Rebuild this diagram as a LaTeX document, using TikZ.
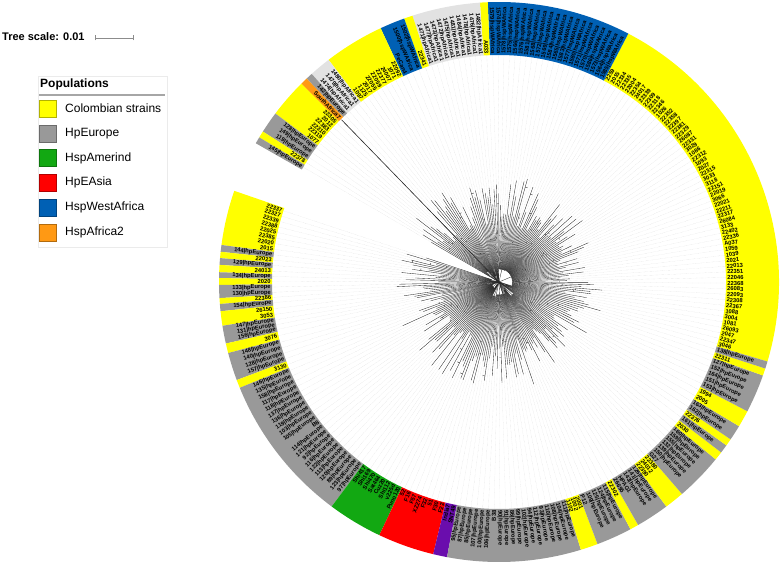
\documentclass[tikz,border=0pt]{standalone}
\usepackage{fontspec}
\setmainfont{Liberation Sans}
\usetikzlibrary{calc}

\definecolor{colyellow}{HTML}{FFFF00}
\definecolor{colgray}{HTML}{999999}
\definecolor{colgreen}{HTML}{12A812}
\definecolor{colred}{HTML}{FF0000}
\definecolor{colblue}{HTML}{0060B4}
\definecolor{colorange}{HTML}{FF9914}
\definecolor{colafrica}{HTML}{E2E2E2}
\definecolor{colpurple}{HTML}{6A0DAD}

\def\rin{227}
\def\rout{280}
\newcount\leafno

% one coloured block of the ring, its leaves, labels and branches
\newcommand{\ringseg}[4]{%
  \fill[#3] (#1:\rin) arc[start angle=#1, end angle=#2, radius=\rin]
    -- (#2:\rout) arc[start angle=#2, end angle=#1, radius=\rout] -- cycle;
  \foreach \lab [count=\n] in {#4} {\xdef\segcount{\n}}
  \pgfmathsetmacro\segstep{(#2-#1)/\segcount}
  \pgfmathsetmacro\segstem{3+16*rnd}
  \pgfmathsetmacro\afirst{#1+0.5*\segstep}
  \pgfmathsetmacro\alast{#2-0.5*\segstep}
  \pgfmathsetmacro\amid{0.5*(#1+#2)}
  \draw[branch] (0,0) -- (\amid:\segstem);
  \draw[branch] (\afirst:\segstem) arc[start angle=\afirst, end angle=\alast, radius=\segstem];
  \foreach \lab [count=\k] in {#4} {
    \global\advance\leafno by 1
    \pgfmathsetmacro\ang{#1+(\k-0.5)*\segstep}
    \pgfmathsetmacro\tip{58+50*rnd}
    \pgfmathsetmacro\knot{\segstem+rnd*(\tip-\segstem-4)}
    \pgfmathtruncatemacro\flip{(\ang>90)*(\ang<270)}
    \pgfmathsetmacro\rlab{\rin+1}
    \draw[branch] (\ang:\segstem) -- (\ang:\tip);
    \ifnum\k>1
      \draw[branch] (\ang:\knot) arc[start angle=\ang, end angle=\ang-\segstep, radius=\knot];
    \fi
    \draw[guide] (\ang:\tip) -- (\ang:\rin);
    \ifnum\flip=1
      \node[leaflab, anchor=east, rotate=\ang+180] (leaf\the\leafno) at (\ang:\rlab) {\lab};
    \else
      \node[leaflab, anchor=west, rotate=\ang] (leaf\the\leafno) at (\ang:\rlab) {\lab};
    \fi
  }
}

\begin{document}
\begin{tikzpicture}[
  x=1pt, y=1pt,
  leaflab/.style={font=\fontsize{5.8}{6.5}\selectfont\bfseries, inner sep=0.2pt},
  branch/.style={line width=0.35pt, black!85},
  guide/.style={black!20, line width=0.2pt, dash pattern=on 0.4pt off 0.8pt},
  swatch/.style={minimum width=17pt, minimum height=17pt, inner sep=0pt, line width=0.5pt},
  legtext/.style={font=\fontsize{12}{14}\selectfont, anchor=west, inner sep=0pt},
]
\useasboundingbox (0,0) rectangle (784,564);
\pgfmathsetseed{11}

%% Tree scale
\node[font=\fontsize{11}{13}\selectfont\bfseries, anchor=west, inner sep=0pt] (scaletxt) at (2,527) {Tree scale: 0.01};
\draw[black!45, line width=0.5pt] (95,526) -- (133,526);
\draw[black!45, line width=0.5pt] (95,523.5) -- (95,528.5);
\draw[black!45, line width=0.5pt] (133,523.5) -- (133,528.5);

%% Legend
\node[draw=black!8, line width=0.6pt, minimum width=129pt, minimum height=171pt,
  anchor=north west, inner sep=0pt] (legbox) at (38,488) {};
\node[font=\fontsize{12}{14}\selectfont\bfseries, anchor=west, inner sep=0pt] (legtitle) at (40,480) {Populations};
\draw[black!35, line width=1.2pt] (39,469) -- (165,469);
\foreach \col/\txt [count=\i] in {colyellow/Colombian strains, colgray/HpEurope,
    colgreen/HspAmerind, colred/HpEAsia, colblue/HspWestAfrica, colorange/HspAfrica2} {
  \pgfmathsetmacro\yy{564-108.5-(\i-1)*24.8}
  \node[swatch, fill=\col, draw=\col!70!black] (sw\i) at (47.5,\yy) {};
  \node[legtext] (leg\i) at (65,\yy) {\txt};
}

%% Ring and tree
\begin{scope}[shift={(499,282)}]
\ringseg{-16.5}{62.5}{colyellow}{3046,22347,2047,26093,1081,3004,1088,22367,22308,22093,26083,22368,22046,22351,22013,2021,1039,1059,A037,22336,22402,3133,26084,22317,22211,22021,3066,22019,22151,3118,3033,22315,2027,1093,22312,1086,3029,22331,26087,22329,22381,22397,22358,22352,1026,22346,22318,22309,22339,24017,22354,22004,22335,22334,2015,2259}
\ringseg{62.5}{92.3}{colblue}{1585|hspWAfrica,1564|hspWAfrica,1573|hspWAfrica,1586|hspWAfrica,1570|hspWAfrica,1571|hspWAfrica,1580|hspWAfrica,1577|hspWAfrica,1583|hspWAfrica,1565|hspWAfrica,1584|hspWAfrica,1569|hspWAfrica,1572|hspWAfrica,1568|hspWAfrica,1581|hspWAfrica,1576|hspWAfrica,1566|hspWAfrica,1575|hspWAfrica,1578|hspWAfrica,1574|hspWAfrica,1579|hspWAfrica}
\ringseg{92.3}{93.9}{colyellow}{A033}
\ringseg{93.9}{108}{colafrica}{1482|hpAfrica1,1476|hpAfrica1,1478|hpAfrica1,1484|hpAfrica1,1481|hpAfrica1,1475|hpAfrica1,1472|hpAfrica1,1473|hpAfrica1,1477|hpAfrica1,1471|hpAfrica1}
\ringseg{108}{109.8}{colyellow}{22341}
\ringseg{109.8}{115}{colblue}{1502|hspWAfrica,1500|hspWAfrica,PeCan4}
\ringseg{115}{127.5}{colyellow}{22092,1071,24007,22377,22059,22055,2017,1125,1097}
\ringseg{127.5}{132}{colafrica}{1480|hpAfrica1,1479|hpAfrica1,1474|hpAfrica1}
\ringseg{132}{133.4}{colgray}{142|hpEurope}
\ringseg{133.4}{134.9}{colorange}{SouthAfrica7}
\ringseg{134.9}{143}{colyellow}{22305,2012,22383,22310,22319,1077}
\ringseg{143}{147.5}{colgray}{128|hpEurope,149|hpEurope,119|hpEurope}
\ringseg{147.5}{148.9}{colyellow}{22378}
\ringseg{148.9}{150.3}{colgray}{145|hpEurope}
\ringseg{161}{172.4}{colyellow}{22337,22327,22339,22388,22025,22385,22020,2015}
\ringseg{172.4}{173.8}{colgray}{144|hpEurope}
\ringseg{173.8}{175.1}{colyellow}{22023}
\ringseg{175.1}{176.5}{colgray}{129|hpEurope}
\ringseg{176.5}{178}{colyellow}{24013}
\ringseg{178}{179.2}{colgray}{134|hpEurope}
\ringseg{179.2}{180.6}{colyellow}{2020}
\ringseg{180.6}{183.3}{colgray}{133|hpEurope,130|hpEurope}
\ringseg{183.3}{184.5}{colyellow}{22386}
\ringseg{184.5}{186}{colgray}{154|hpEurope}
\ringseg{186}{189}{colyellow}{26150,3053}
\ringseg{189}{192.7}{colgray}{147|hpEurope,131|hpEurope,156|hpEurope}
\ringseg{192.7}{194.7}{colyellow}{3076}
\ringseg{194.7}{200.5}{colgray}{148|hpEurope,140|hpEurope,128|hpEurope,157|hpEurope}
\ringseg{200.5}{202.2}{colyellow}{3130}
\ringseg{202.2}{233.3}{colgray}{146|hpEurope,135|hpEurope,158|hpEurope,117|hpEurope,118|hpEurope,137|hpEurope,136|hpEurope,119|hpEurope,103|hpEurope,105|hpEurope,B8,114|hpEurope,121|hpEurope,92|hpEurope,116|hpEurope,122|hpEurope,113|hpEurope,120|hpEurope,89|hpEurope,123|hpEurope,97|hpEurope}
\ringseg{233.3}{244.7}{colgreen}{Shi417,Shi169,Shi470,Sat464,Cuz20,Shi112,v225d,Puno120}
\ringseg{244.7}{256.4}{colred}{52,F16,F57,XZ274,F32,51,F30,F22}
\ringseg{256.4}{259.3}{colpurple}{India7,SNT49}
\ringseg{259.3}{287}{colgray}{95|hpEurope,87|hpEurope,85|hpEurope,107|hpEurope,100|hpEurope,106|hpEurope,B38,90|hpEurope,91|hpEurope,86|hpEurope,99|hpEurope,102|hpEurope,94|hpEurope,112|hpEurope,93|hpEurope,110|hpEurope,108|hpEurope,104|hpEurope,111|hpEurope}
\ringseg{287}{290.6}{colyellow}{1102,1002,2001}
\ringseg{290.6}{298}{colgray}{P12,109|hpEurope,125|hpEurope,124|hpEurope,115|hpEurope}
\ringseg{298}{299.8}{colyellow}{22302}
\ringseg{299.8}{306.7}{colgray}{26695,HPAG1,143|hpEurope,141|hpEurope,126|hpEurope}
\ringseg{306.7}{310.8}{colyellow}{22390,24012,22380}
\ringseg{310.8}{320.7}{colgray}{G27,150|hpEurope,139|hpEurope,132|hpEurope,155|hpEurope,159|hpEurope,160|hpEurope}
\ringseg{320.7}{322.5}{colyellow}{2030}
\ringseg{322.5}{324.3}{colgray}{161|hpEurope}
\ringseg{324.3}{325.8}{colyellow}{22376}
\ringseg{325.8}{329}{colgray}{162|hpEurope,163|hpEurope}
\ringseg{329}{332.5}{colyellow}{2005,1994}
\ringseg{332.5}{340.5}{colgray}{153|hpEurope,151|hpEurope,164|hpEurope,152|hpEurope,127|hpEurope}
\ringseg{340.5}{342}{colyellow}{22311}
\ringseg{342}{343.5}{colgray}{138|hpEurope}

%% Long branch to the African leaf
\coordinate (root) at (0,0);
\coordinate (safrica) at (134.15:226);
\draw[line width=0.6pt, black!85] (root) -- (safrica);
\end{scope}

\end{tikzpicture}
\end{document}
